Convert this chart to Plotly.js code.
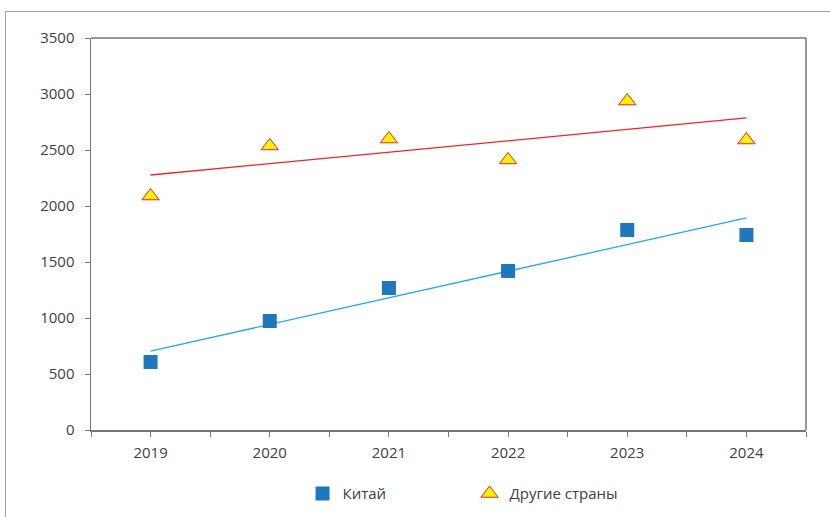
<!DOCTYPE html>
<html>
<head>
<meta charset="utf-8">
<script src="https://cdn.plot.ly/plotly-3.0.1.min.js"></script>
<style>
html,body{margin:0;padding:0;width:830px;height:517px;overflow:hidden;background:#fff;}
#frame{position:absolute;left:5px;top:11px;width:900px;height:600px;border:1px solid #a6a6a6;box-sizing:border-box;}
#chart{position:absolute;left:0;top:0;width:830px;height:517px;}
</style>
</head>
<body>
<div id="frame"></div>
<div id="chart"></div>
<script>
var years = [2019, 2020, 2021, 2022, 2023, 2024];
var china = [607, 973, 1268, 1420, 1786, 1741];
var others = [2089, 2536, 2598, 2411, 2937, 2589];
var trendYears = [2019, 2024];
var chinaTrend = [705, 1893];
var othersTrend = [2277, 2786];
var names = ['Китай', 'Другие страны'];

var font = {family: 'Open Sans, Noto Sans, sans-serif', size: 15, color: '#404040'};

var traces = [
  {x: trendYears, y: chinaTrend, mode: 'lines', line: {color: '#29A9E1', width: 1.3}, showlegend: false, hoverinfo: 'skip'},
  {x: trendYears, y: othersTrend, mode: 'lines', line: {color: '#E8262B', width: 1.3}, showlegend: false, hoverinfo: 'skip'},
  {x: years, y: china, name: names[0], mode: 'markers', type: 'scatter',
   marker: {symbol: 'square', size: 14, color: '#1F77BE', line: {width: 0}}},
  {x: years, y: others, name: names[1], mode: 'markers', type: 'scatter',
   marker: {symbol: 'triangle-up', size: 15, color: '#FFF200', line: {color: '#E8262B', width: 1}}}
];

var layout = {
  width: 830, height: 517,
  margin: {l: 91, r: 24, t: 38, b: 87},
  paper_bgcolor: 'rgba(0,0,0,0)',
  plot_bgcolor: '#fff',
  font: font,
  showlegend: true,
  xaxis: {
    range: [2018.5, 2024.5], tickmode: 'array', tickvals: years, ticktext: years.map(String),
    showgrid: false, zeroline: false, showline: true, linecolor: '#767676', linewidth: 1.5,
    ticks: 'outside', ticklen: 5, tickcolor: '#767676', tickwidth: 1, ticklabelstandoff: 3,
    minor: {tickmode: 'linear', tick0: 2018.5, dtick: 1, ticks: 'outside', ticklen: 5, tickcolor: '#767676', tickwidth: 1, showgrid: false},
    tickfont: font, fixedrange: true, automargin: false
  },
  yaxis: {
    range: [0, 3500], dtick: 500, tick0: 0,
    showgrid: false, zeroline: false, showline: true, linecolor: '#767676', linewidth: 1.5,
    ticks: 'outside', ticklen: 5, tickcolor: '#767676', tickwidth: 1, ticklabelstandoff: 7,
    tickfont: font, fixedrange: true, automargin: false
  },
  shapes: [
    {type: 'line', xref: 'paper', yref: 'paper', x0: 0, x1: 1, y0: 1, y1: 1, line: {color: '#333333', width: 1}},
    {type: 'line', xref: 'paper', yref: 'paper', x0: 1, x1: 1, y0: 0, y1: 1, line: {color: '#333333', width: 1}}
  ],
  legend: {
    orientation: 'h', xref: 'container', x: 0.3645, xanchor: 'left',
    yref: 'container', y: 0.045, yanchor: 'middle',
    entrywidth: 122, entrywidthmode: 'pixels', font: font, bgcolor: 'rgba(0,0,0,0)'
  }
};

Plotly.newPlot('chart', traces, layout, {displayModeBar: false, staticPlot: true});
</script>
</body>
</html>
